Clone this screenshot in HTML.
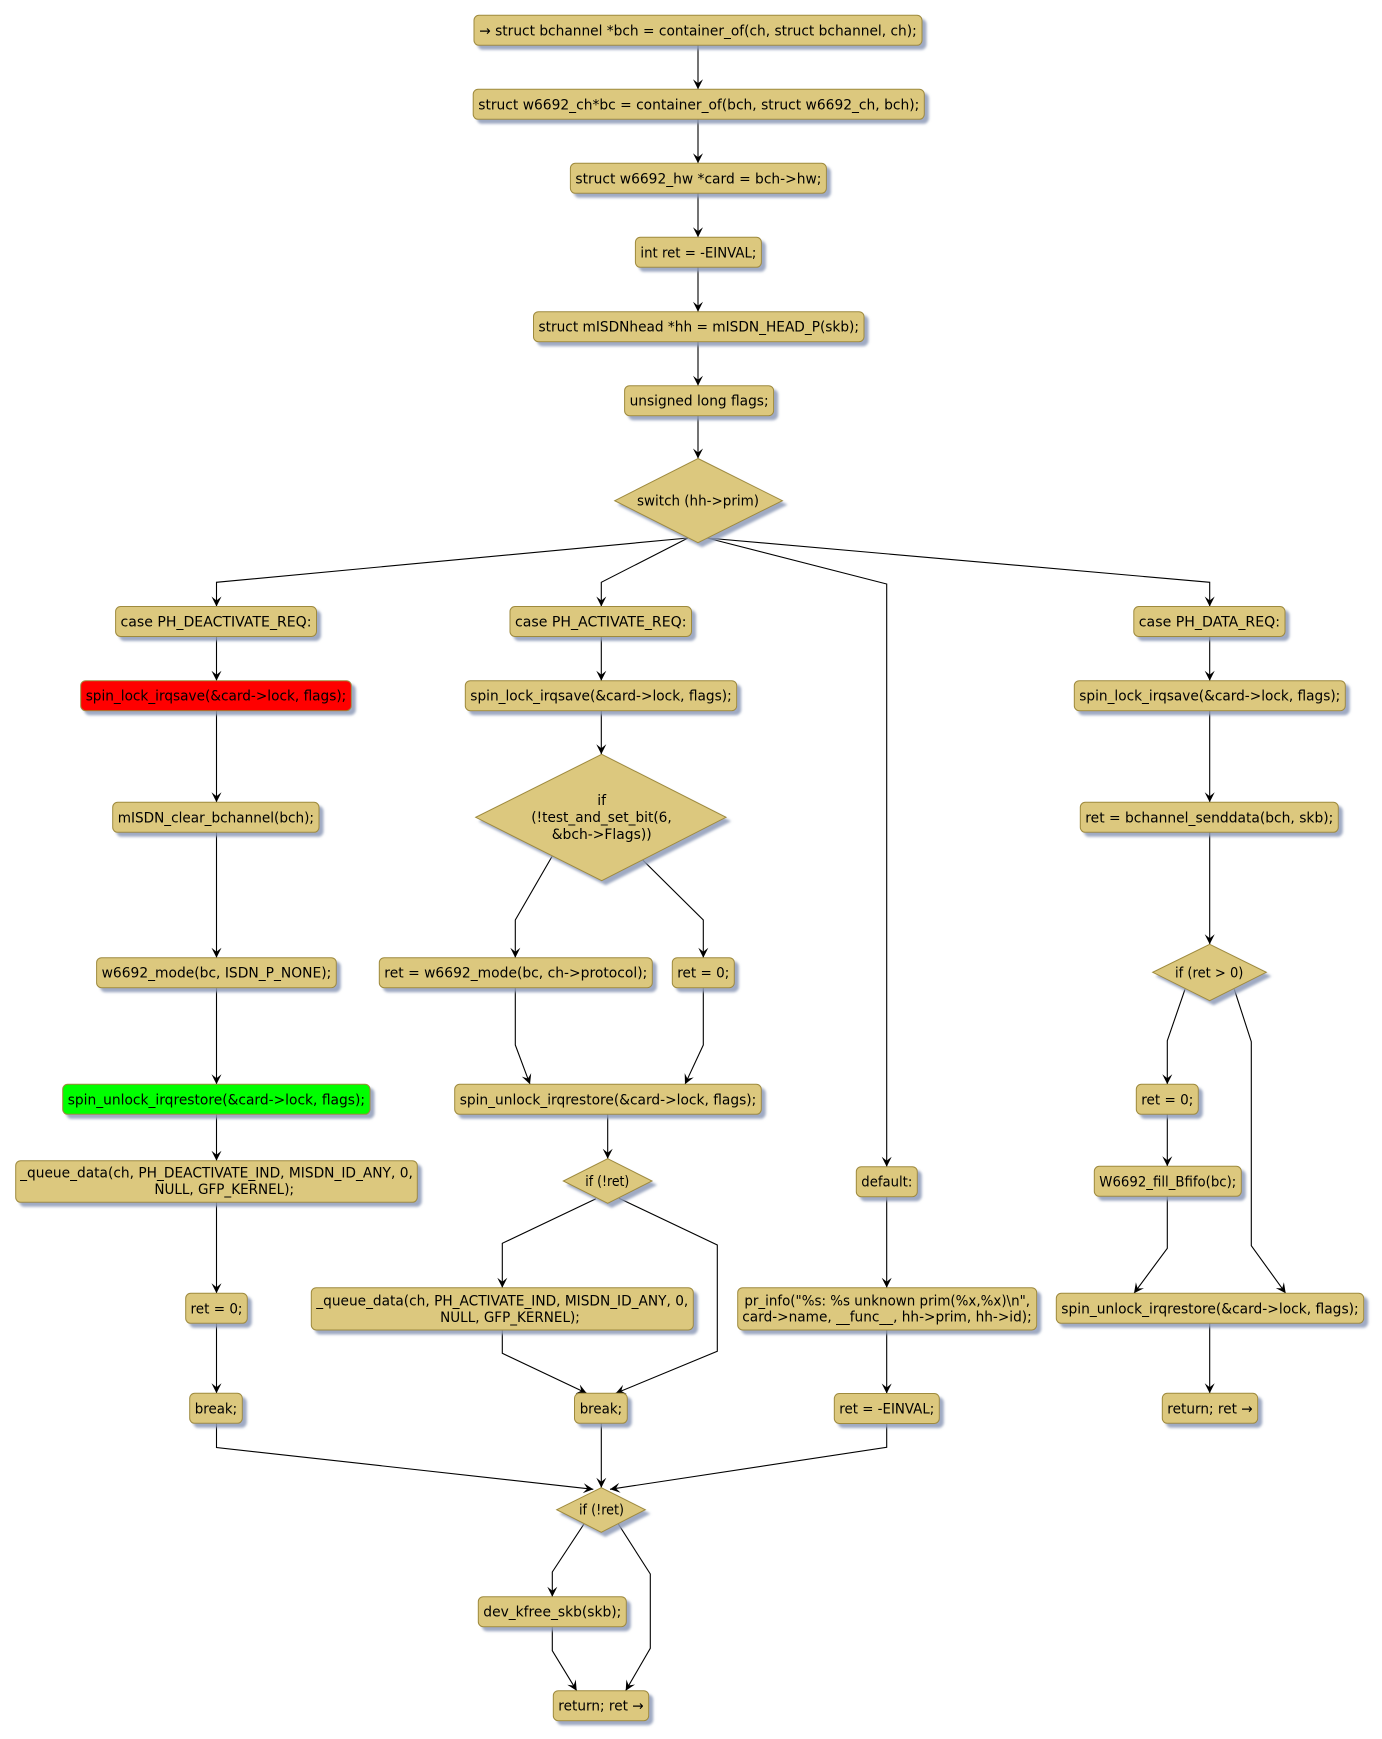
<!DOCTYPE html>
<html><head><meta charset="utf-8"><style>
html,body{margin:0;padding:0;background:#fff;}
svg{display:block;}
text{font-family:"DejaVu Sans","Liberation Sans",sans-serif;font-size:14px;fill:#000;}
.b{fill:#DCC87E;stroke:#9E8A3E;stroke-width:1;}
.r{fill:#FF0000;stroke:#9E8A3E;stroke-width:1;}
.g{fill:#00FF00;stroke:#9E8A3E;stroke-width:1;}
.l{fill:none;stroke:#000;stroke-width:1.1;marker-end:url(#a);}
</style></head><body>
<svg width="1382" height="1739" viewBox="0 0 1382 1739" xmlns="http://www.w3.org/2000/svg">
<defs>
<filter id="sh" x="-10%" y="-20%" width="130%" height="160%">
<feOffset in="SourceAlpha" dx="4" dy="4" result="o"/>
<feGaussianBlur in="o" stdDeviation="1.3" result="bl"/>
<feFlood flood-color="#8E9BB8" flood-opacity="0.85"/>
<feComposite in2="bl" operator="in" result="s"/>
<feMerge><feMergeNode in="s"/><feMergeNode in="SourceGraphic"/></feMerge>
</filter>
<marker id="a" markerUnits="userSpaceOnUse" markerWidth="12" markerHeight="12" viewBox="-11 -6 12 12" refX="0" refY="0" orient="auto" overflow="visible">
<path d="M0,0 L-10,-5 L-6,0 L-10,5 Z" fill="#000"/>
</marker>
</defs>

<!-- connectors -->
<g>
<polyline class="l" points="698,45.3 698,89.3"/>
<polyline class="l" points="698,119.3 698,163.3"/>
<polyline class="l" points="698,193.3 698,237.3"/>
<polyline class="l" points="698,267.3 698,311.7"/>
<polyline class="l" points="698,341.7 698,385.7"/>
<polyline class="l" points="698,415.7 698,458.5"/>

<polyline class="l" points="688,538 216.5,582.3 216.5,606.5"/>
<polyline class="l" points="688,538 601.3,582.3 601.3,606.5"/>
<polyline class="l" points="707,538 886.7,584 886.7,1166.7"/>
<polyline class="l" points="707,538 1209.7,582.3 1209.7,606.5"/>

<polyline class="l" points="216.5,636.5 216.5,680.7"/>
<polyline class="l" points="216.5,710.7 216.5,802.3"/>
<polyline class="l" points="216.5,832.3 216.5,957.7"/>
<polyline class="l" points="216.5,987.7 216.5,1084.3"/>
<polyline class="l" points="216.5,1114.3 216.5,1160.7"/>
<polyline class="l" points="216.5,1202.3 216.5,1293.3"/>
<polyline class="l" points="216.5,1323.3 216.5,1393.3"/>
<polyline class="l" points="216.5,1423.3 216.5,1447.5 593.3,1489.3"/>

<polyline class="l" points="601.3,636.5 601.3,680.7"/>
<polyline class="l" points="601.3,710.7 601.3,754.3"/>
<polyline class="l" points="552.3,856 515.3,920 515.3,957.7"/>
<polyline class="l" points="642.7,860 703.3,920 703.3,957.7"/>
<polyline class="l" points="515.3,987.7 515.3,1045 530,1084.3"/>
<polyline class="l" points="703.3,987.7 703.3,1045 685,1084.3"/>
<polyline class="l" points="607.7,1114.3 607.7,1158.7"/>
<polyline class="l" points="596,1198.7 502.3,1243.3 502.3,1287.7"/>
<polyline class="l" points="619,1198.3 717.3,1245 717.3,1351.3 615.7,1393.3"/>
<polyline class="l" points="502.3,1330 502.3,1353.3 586.7,1393.3"/>
<polyline class="l" points="601.3,1423.3 601.3,1487.7"/>
<polyline class="l" points="584,1524 552.3,1572 552.3,1596.7"/>
<polyline class="l" points="618.3,1524 650.3,1574 650.3,1648.3 625.7,1690.7"/>
<polyline class="l" points="552.3,1626.7 552.3,1650.7 576.7,1690.7"/>

<polyline class="l" points="886.7,1196.7 886.7,1287.7"/>
<polyline class="l" points="886.7,1330 886.7,1393.5"/>
<polyline class="l" points="886.7,1423.5 886.7,1447.3 610,1489.3"/>

<polyline class="l" points="1209.7,636.5 1209.7,680.7"/>
<polyline class="l" points="1209.7,710.7 1209.7,802.3"/>
<polyline class="l" points="1209.7,832.3 1209.7,944.3"/>
<polyline class="l" points="1185,989.3 1167.3,1040.7 1167.3,1084.3"/>
<polyline class="l" points="1234.3,989.3 1251.3,1041.7 1251.3,1245.7 1285.7,1293.3"/>
<polyline class="l" points="1167.3,1114.3 1167.3,1166.3"/>
<polyline class="l" points="1167.3,1196.3 1167.3,1248.3 1134,1293.3"/>
<polyline class="l" points="1209.7,1323.3 1209.7,1393.3"/>
</g>

<!-- nodes -->
<g filter="url(#sh)">
<rect class="b" x="474" y="15.3" width="448" height="30" rx="5"/>
<rect class="b" x="473.2" y="89.3" width="451.1" height="30" rx="5"/>
<rect class="b" x="570.4" y="163.3" width="256" height="30" rx="5"/>
<rect class="b" x="635.4" y="237.3" width="126" height="30" rx="5"/>
<rect class="b" x="533.5" y="311.7" width="330.5" height="30" rx="5"/>
<rect class="b" x="624.6" y="385.7" width="149" height="30" rx="5"/>
<polygon class="b" points="698,458.5 782.4,500.7 698,542.7 614.7,500.7"/>

<rect class="b" x="115.6" y="606.5" width="200.9" height="30" rx="5"/>
<rect class="r" x="80.7" y="680.7" width="270.6" height="30" rx="5"/>
<rect class="b" x="112.7" y="802.3" width="206.3" height="30" rx="5"/>
<rect class="b" x="96.6" y="957.7" width="239.7" height="30" rx="5"/>
<rect class="g" x="62.7" y="1084.3" width="307.3" height="30" rx="5"/>
<rect class="b" x="15.7" y="1160.7" width="401.6" height="41.6" rx="5"/>
<rect class="b" x="185.7" y="1293.3" width="61.6" height="30" rx="5"/>
<rect class="b" x="189.7" y="1393.3" width="52.6" height="30" rx="5"/>

<rect class="b" x="510" y="606.5" width="181.5" height="30" rx="5"/>
<rect class="b" x="465.3" y="680.7" width="271.4" height="30" rx="5"/>
<polygon class="b" points="601.7,754.3 726,817.3 601.7,880.7 475.7,817.3"/>
<rect class="b" x="379.3" y="957.7" width="273" height="30" rx="5"/>
<rect class="b" x="672.3" y="957.7" width="62" height="30" rx="5"/>
<rect class="b" x="454.7" y="1084.3" width="306.6" height="30" rx="5"/>
<polygon class="b" points="607.7,1158.7 652,1181 607.7,1203.3 563.3,1181"/>
<rect class="b" x="311.3" y="1287.7" width="382" height="42.3" rx="5"/>
<rect class="b" x="574.5" y="1393.3" width="52.8" height="30" rx="5"/>
<polygon class="b" points="601.3,1487.7 645.3,1509.7 601.3,1532.3 556.7,1509.7"/>
<rect class="b" x="478.3" y="1596.7" width="148" height="30" rx="5"/>
<rect class="b" x="553.3" y="1690.7" width="95.4" height="30" rx="5"/>

<rect class="b" x="856.3" y="1166.7" width="61" height="30" rx="5"/>
<rect class="b" x="737.7" y="1287.7" width="299" height="42.3" rx="5"/>
<rect class="b" x="834.3" y="1393.5" width="105" height="30" rx="5"/>

<rect class="b" x="1133.8" y="606.5" width="151.2" height="30" rx="5"/>
<rect class="b" x="1074.3" y="680.7" width="271" height="30" rx="5"/>
<rect class="b" x="1080.3" y="802.3" width="258" height="30" rx="5"/>
<polygon class="b" points="1209.7,944.3 1266.3,972.3 1209.7,1000.7 1152.7,972.3"/>
<rect class="b" x="1136.3" y="1084.3" width="62" height="30" rx="5"/>
<rect class="b" x="1094.3" y="1166.3" width="147" height="30" rx="5"/>
<rect class="b" x="1056.3" y="1293.3" width="307.4" height="30" rx="5"/>
<rect class="b" x="1162.3" y="1393.3" width="95.4" height="30" rx="5"/>
</g>

<!-- labels -->
<g text-anchor="middle">
<text x="698" y="35.3" textLength="437.5" lengthAdjust="spacingAndGlyphs">→ struct bchannel *bch = container_of(ch, struct bchannel, ch);</text>
<text x="698.75" y="109.3" textLength="441" lengthAdjust="spacingAndGlyphs">struct w6692_ch*bc = container_of(bch, struct w6692_ch, bch);</text>
<text x="698.4" y="183.3" textLength="246" lengthAdjust="spacingAndGlyphs">struct w6692_hw *card = bch-&gt;hw;</text>
<text x="698.4" y="257.3" textLength="116" lengthAdjust="spacingAndGlyphs">int ret = -EINVAL;</text>
<text x="698.75" y="331.7" textLength="320.5" lengthAdjust="spacingAndGlyphs">struct mISDNhead *hh = mISDN_HEAD_P(skb);</text>
<text x="699.1" y="405.7" textLength="139" lengthAdjust="spacingAndGlyphs">unsigned long flags;</text>
<text x="698" y="505.7" textLength="122" lengthAdjust="spacingAndGlyphs">switch (hh-&gt;prim)</text>

<text x="216" y="626.5" textLength="191" lengthAdjust="spacingAndGlyphs">case PH_DEACTIVATE_REQ:</text>
<text x="216" y="700.7" textLength="260.6" lengthAdjust="spacingAndGlyphs">spin_lock_irqsave(&amp;card-&gt;lock, flags);</text>
<text x="215.85" y="822.3" textLength="196.3" lengthAdjust="spacingAndGlyphs">mISDN_clear_bchannel(bch);</text>
<text x="216.45" y="977.7" textLength="229.7" lengthAdjust="spacingAndGlyphs">w6692_mode(bc, ISDN_P_NONE);</text>
<text x="216.35" y="1104.3" textLength="297.3" lengthAdjust="spacingAndGlyphs">spin_unlock_irqrestore(&amp;card-&gt;lock, flags);</text>
<text x="216.5" y="1177.7" textLength="392.7" lengthAdjust="spacingAndGlyphs">_queue_data(ch, PH_DEACTIVATE_IND, MISDN_ID_ANY, 0,</text>
<text x="224.2" y="1194" textLength="139.7" lengthAdjust="spacingAndGlyphs">NULL, GFP_KERNEL);</text>
<text x="216.5" y="1313.3" textLength="52" lengthAdjust="spacingAndGlyphs">ret = 0;</text>
<text x="216" y="1413.3" textLength="42.4" lengthAdjust="spacingAndGlyphs">break;</text>

<text x="600.75" y="626.5" textLength="171.5" lengthAdjust="spacingAndGlyphs">case PH_ACTIVATE_REQ:</text>
<text x="601" y="700.7" textLength="261.4" lengthAdjust="spacingAndGlyphs">spin_lock_irqsave(&amp;card-&gt;lock, flags);</text>
<text x="601.7" y="805">if</text>
<text x="601.5" y="822" textLength="140.4" lengthAdjust="spacingAndGlyphs">(!test_and_set_bit(6,</text>
<text x="601.7" y="839" textLength="100" lengthAdjust="spacingAndGlyphs">&amp;bch-&gt;Flags))</text>
<text x="515.8" y="977.7" textLength="263" lengthAdjust="spacingAndGlyphs">ret = w6692_mode(bc, ch-&gt;protocol);</text>
<text x="703.3" y="977.7" textLength="52" lengthAdjust="spacingAndGlyphs">ret = 0;</text>
<text x="608" y="1104.3" textLength="296.6" lengthAdjust="spacingAndGlyphs">spin_unlock_irqrestore(&amp;card-&gt;lock, flags);</text>
<text x="607.3" y="1186" textLength="44" lengthAdjust="spacingAndGlyphs">if (!ret)</text>
<text x="502.3" y="1305.5" textLength="372" lengthAdjust="spacingAndGlyphs">_queue_data(ch, PH_ACTIVATE_IND, MISDN_ID_ANY, 0,</text>
<text x="510" y="1322" textLength="139.7" lengthAdjust="spacingAndGlyphs">NULL, GFP_KERNEL);</text>
<text x="600.9" y="1413.3" textLength="42.4" lengthAdjust="spacingAndGlyphs">break;</text>
<text x="601.5" y="1514.5" textLength="45" lengthAdjust="spacingAndGlyphs">if (!ret)</text>
<text x="552.3" y="1616.7" textLength="138" lengthAdjust="spacingAndGlyphs">dev_kfree_skb(skb);</text>
<text x="601" y="1710.7" textLength="85.4" lengthAdjust="spacingAndGlyphs">return; ret →</text>

<text x="886.8" y="1186.7" textLength="51" lengthAdjust="spacingAndGlyphs">default:</text>
<text x="887.2" y="1305.3" textLength="285.7" lengthAdjust="spacingAndGlyphs">pr_info("%s: %s unknown prim(%x,%x)\n",</text>
<text x="887" y="1321.7" textLength="289.4" lengthAdjust="spacingAndGlyphs">card-&gt;name, __func__, hh-&gt;prim, hh-&gt;id);</text>
<text x="886.8" y="1413.5" textLength="95" lengthAdjust="spacingAndGlyphs">ret = -EINVAL;</text>

<text x="1209.4" y="626.5" textLength="141.2" lengthAdjust="spacingAndGlyphs">case PH_DATA_REQ:</text>
<text x="1209.8" y="700.7" textLength="261" lengthAdjust="spacingAndGlyphs">spin_lock_irqsave(&amp;card-&gt;lock, flags);</text>
<text x="1209.3" y="822.3" textLength="248" lengthAdjust="spacingAndGlyphs">ret = bchannel_senddata(bch, skb);</text>
<text x="1209.2" y="977.3" textLength="68.3" lengthAdjust="spacingAndGlyphs">if (ret &gt; 0)</text>
<text x="1167.3" y="1104.3" textLength="52" lengthAdjust="spacingAndGlyphs">ret = 0;</text>
<text x="1167.8" y="1186.3" textLength="137" lengthAdjust="spacingAndGlyphs">W6692_fill_Bfifo(bc);</text>
<text x="1210" y="1313.3" textLength="297.4" lengthAdjust="spacingAndGlyphs">spin_unlock_irqrestore(&amp;card-&gt;lock, flags);</text>
<text x="1210" y="1413.3" textLength="85.4" lengthAdjust="spacingAndGlyphs">return; ret →</text>
</g>
</svg>
</body></html>
